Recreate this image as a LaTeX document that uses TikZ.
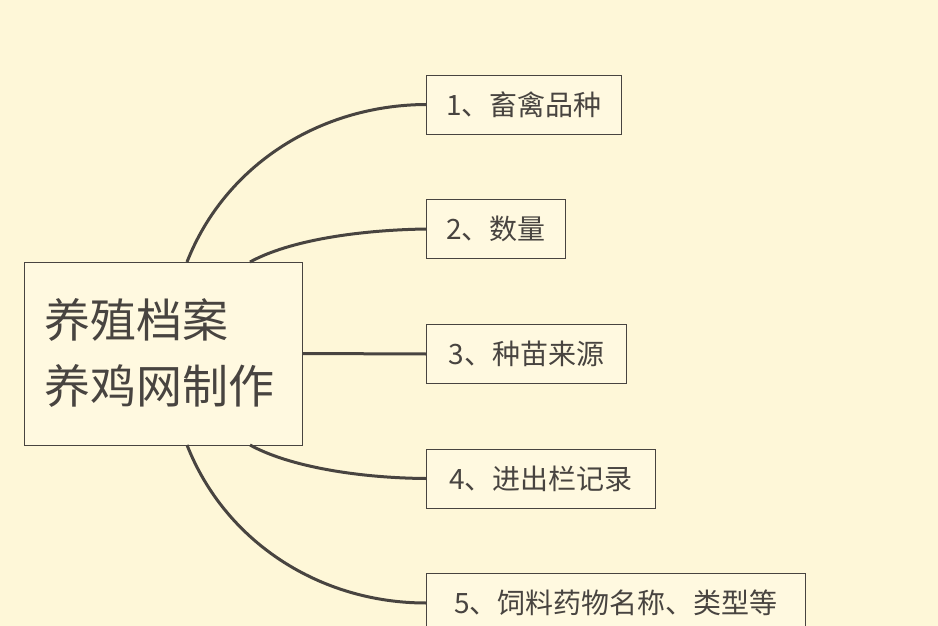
\documentclass[tikz,border=0pt]{standalone}
\usepackage{fontspec}
\newfontfamily\cjk{Noto Sans CJK SC}
\definecolor{bg}{HTML}{FEF7D8}
\definecolor{boxfill}{HTML}{FFF9E0}
\definecolor{ln}{HTML}{484440}
\begin{document}
\begin{tikzpicture}[x=1pt,y=1pt,
  item/.style={draw=ln,line width=0.8pt,fill=boxfill,anchor=west,minimum height=59pt,inner xsep=0pt,align=center,font=\cjk\fontsize{28}{30}\selectfont,text=ln},
  conn/.style={draw=ln,line width=3pt}]
\fill[bg] (0,0) rectangle (938,-626);
\useasboundingbox (0,0) rectangle (938,-626);
\node[draw=ln,line width=0.8pt,fill=boxfill,minimum width=278pt,minimum height=183pt,inner xsep=0pt,text=ln] (root) at (163,-353.5) {};
\node[anchor=west,inner sep=0pt,align=left,font=\cjk\fontsize{46}{66}\selectfont,text=ln] (rt) at (44,-353) {养殖档案\\养鸡网制作};
\node[item,minimum width=195pt] (n1) at (426,-104.5) {1、畜禽品种};
\node[item,minimum width=139pt] (n2) at (426,-229) {2、数量};
\node[item,minimum width=200pt] (n3) at (426,-354) {3、种苗来源};
\node[item,minimum width=229pt] (n4) at (426,-478.5) {4、进出栏记录};
\node[item,minimum width=379pt] (n5) at (426,-603) {5、饲料药物名称、类型等};
\coordinate (a1) at (187,-262);
\coordinate (a2) at (250,-262);
\coordinate (a4) at (250,-445);
\coordinate (a5) at (187,-445);
\draw[conn] (a1) .. controls (225,-165) and (320,-105) .. (n1.west);
\draw[conn] (a2) .. controls (290,-240) and (360,-230) .. (n2.west);
\draw[conn] (root.east) -- (n3.west);
\draw[conn] (a4) .. controls (290,-467) and (360,-478) .. (n4.west);
\draw[conn] (a5) .. controls (225,-542) and (320,-603) .. (n5.west);
\end{tikzpicture}
\end{document}
